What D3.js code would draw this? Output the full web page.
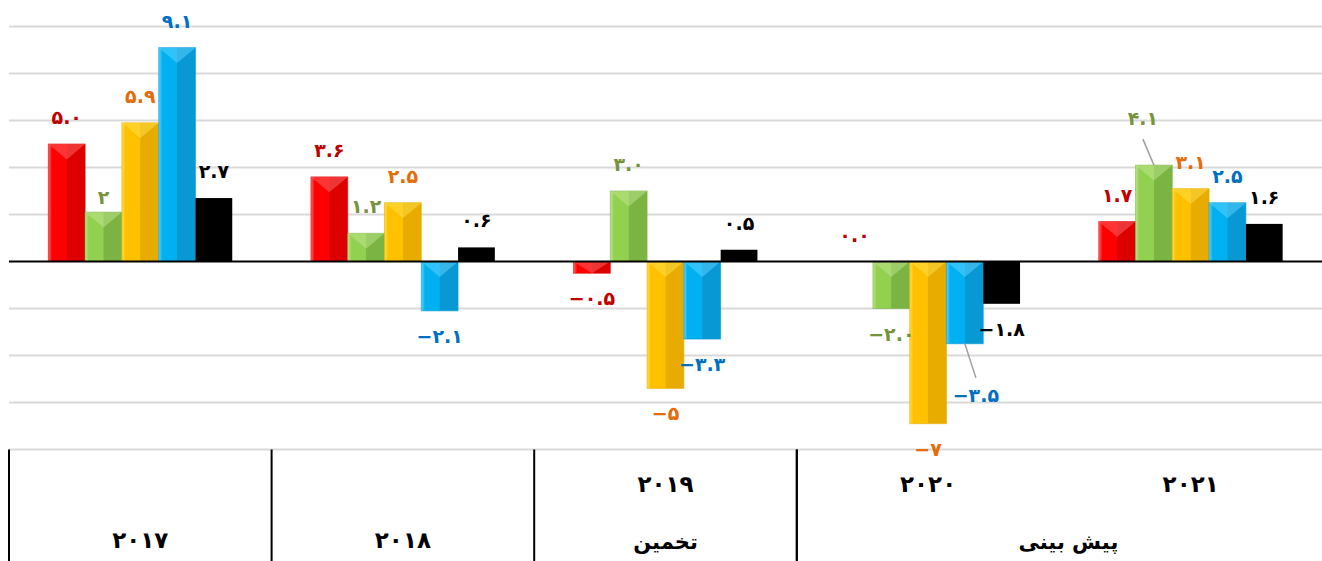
<!DOCTYPE html>
<html lang="fa">
<head>
    <meta charset="UTF-8">
    <title>growth chart</title>
    <script src="https://cdn.jsdelivr.net/npm/d3@7"></script>
    <style>
        body, html {
            margin: 0;
            padding: 0;
            background: #fff;
            overflow: hidden;
        }
        svg {
            display: block;
        }
    </style>
</head>
<body>
    <svg id="mainsvg"></svg>
    <script>
        // ---- data ----
        const years = ['2017', '2018', '2019', '2020', '2021'];
        const yearLabels = ['۲۰۱۷', '۲۰۱۸', '۲۰۱۹', '۲۰۲۰', '۲۰۲۱'];
        const seriesKeys = ['red', 'green', 'gold', 'blue', 'black'];

        const redValues = [5.0, 3.6, -0.5, 0.0, 1.7];
        const greenValues = [2.1, 1.2, 3.0, -2.0, 4.1];
        const goldValues = [5.9, 2.5, -5.4, -6.9, 3.1];
        const blueValues = [9.1, -2.1, -3.3, -3.5, 2.5];
        const blackValues = [2.7, 0.6, 0.5, -1.8, 1.6];

        const redLabels = ['۵.۰', '۳.۶', '−۰.۵', '۰.۰', '۱.۷'];
        const greenLabels = ['۲', '۱.۲', '۳.۰', '−۲.۰', '۴.۱'];
        const goldLabels = ['۵.۹', '۲.۵', '−۵', '−۷', '۳.۱'];
        const blueLabels = ['۹.۱', '−۲.۱', '−۳.۳', '−۳.۵', '۲.۵'];
        const blackLabels = ['۲.۷', '۰.۶', '۰.۵', '−۱.۸', '۱.۶'];

        // period notes under the year row
        const estimateYears = ['2019'];
        const forecastYears = ['2020', '2021'];
        const estimateText = 'تخمین';
        const forecastText = 'پیش بینی';

        const yTicks = [-8, -6, -4, -2, 0, 2, 4, 6, 8, 10];

        // ---- styles ----
        const barColors = {
            red:   { base: '#ff0000', light: '#ff6a6a', dark: '#dc0000', bevel: true },
            green: { base: '#92d050', light: '#bfe690', dark: '#7bb443', bevel: true },
            gold:  { base: '#ffc000', light: '#ffe04a', dark: '#e8ac00', bevel: true },
            blue:  { base: '#00b0f0', light: '#5fd4ff', dark: '#0899d4', bevel: true },
            black: { base: '#000000', light: '#000000', dark: '#000000', bevel: false }
        };
        const labelColors = {
            red: '#c00000', green: '#77933c', gold: '#e46c0a', blue: '#0070c0', black: '#000000'
        };

        // hand placed labels (Excel style) — offsets relative to default spot
        const labelTweaks = {
            'green-2017': { dy: 12 },
            'blue-2020': { dx: 11, dy: 26, leader: true },
            'green-2021': { dx: -11, dy: -20, leader: true }
        };

        const width = 1322, height = 561;
        const svg = d3.select('#mainsvg').attr('width', width).attr('height', height);

        const x0 = d3.scaleBand().domain(years).range([9, 1322]).paddingInner(0).paddingOuter(0);
        const x1 = d3.scaleBand().domain(seriesKeys).range([0, x0.bandwidth()])
            .paddingInner(0).paddingOuter(1.07);
        const yScale = d3.scaleLinear().domain([-8, 10]).range([449.5, 26.5]);

        const valuesBy = { red: redValues, green: greenValues, gold: goldValues, blue: blueValues, black: blackValues };
        const labelsBy = { red: redLabels, green: greenLabels, gold: goldLabels, blue: blueLabels, black: blackLabels };

        const data = [];
        years.forEach((yr, i) => {
            seriesKeys.forEach(k => {
                data.push({ year: yr, key: k, value: valuesBy[k][i], label: labelsBy[k][i] });
            });
        });

        // gradients for bevel look
        const defs = svg.append('defs');
        seriesKeys.forEach(k => {
            const c = barColors[k];
            const g = defs.append('linearGradient').attr('id', 'grad-' + k)
                .attr('x1', '0%').attr('x2', '100%').attr('y1', '0%').attr('y2', '0%');
            g.append('stop').attr('offset', '0%').attr('stop-color', c.light);
            g.append('stop').attr('offset', '10%').attr('stop-color', c.base);
            g.append('stop').attr('offset', '49%').attr('stop-color', c.base);
            g.append('stop').attr('offset', '51%').attr('stop-color', c.dark);
            g.append('stop').attr('offset', '90%').attr('stop-color', c.dark);
            g.append('stop').attr('offset', '100%').attr('stop-color', c.dark);
        });

        // grid lines
        svg.append('g').selectAll('line').data(yTicks.filter(t => t !== 0)).join('line')
            .attr('x1', 9).attr('x2', width)
            .attr('y1', d => yScale(d)).attr('y2', d => yScale(d))
            .attr('stroke', '#d9d9d9').attr('stroke-width', 2);

        // bars
        const barG = svg.append('g');
        const bars = barG.selectAll('g.bar').data(data.filter(d => d.value !== 0)).join('g').attr('class', 'bar');

        bars.append('rect')
            .attr('x', d => x0(d.year) + x1(d.key))
            .attr('y', d => yScale(Math.max(0, d.value)))
            .attr('width', x1.bandwidth())
            .attr('height', d => Math.abs(yScale(d.value) - yScale(0)))
            .attr('fill', d => barColors[d.key].bevel ? `url(#grad-${d.key})` : barColors[d.key].base)
            .attr('stroke', d => barColors[d.key].bevel ? barColors[d.key].dark : 'none')
            .attr('stroke-opacity', 0.6)
            .attr('stroke-width', 1);

        // top chevron of the bevel
        bars.filter(d => barColors[d.key].bevel).append('path')
            .attr('d', d => {
                const bx = x0(d.year) + x1(d.key);
                const w = x1.bandwidth();
                const top = yScale(Math.max(0, d.value));
                const h = Math.abs(yScale(d.value) - yScale(0));
                const depth = Math.min(h, w * 0.42);
                return `M${bx},${top} L${bx + w},${top} L${bx + w / 2},${top + depth} Z`;
            })
            .attr('fill', d => barColors[d.key].light)
            .attr('opacity', 0.5);

        // zero line
        svg.append('line')
            .attr('x1', 9).attr('x2', width)
            .attr('y1', yScale(0)).attr('y2', yScale(0))
            .attr('stroke', '#000').attr('stroke-width', 2);

        // data labels
        const labelPos = d => {
            const t = labelTweaks[d.key + '-' + d.year] || {};
            const cx = x0(d.year) + x1(d.key) + x1.bandwidth() / 2;
            const cy = d.value >= 0 ? yScale(d.value) - 27 : yScale(d.value) + 25;
            return { x: cx + (t.dx || 0), y: cy + (t.dy || 0), t: t, bx: cx, by: yScale(d.value) };
        };

        const leaders = data.filter(d => (labelTweaks[d.key + '-' + d.year] || {}).leader);
        svg.append('g').selectAll('line').data(leaders).join('line')
            .attr('x1', d => labelPos(d).bx)
            .attr('y1', d => labelPos(d).by)
            .attr('x2', d => labelPos(d).x)
            .attr('y2', d => labelPos(d).y + (d.value >= 0 ? 21 : -17))
            .attr('stroke', '#a0a0a0').attr('stroke-width', 1.5);

        svg.append('g').selectAll('text').data(data).join('text')
            .attr('x', d => labelPos(d).x)
            .attr('y', d => labelPos(d).y)
            .attr('text-anchor', 'middle')
            .attr('dominant-baseline', 'central')
            .attr('direction', 'ltr')
            .attr('font-family', 'DejaVu Sans')
            .attr('font-weight', 'bold')
            .attr('font-size', '19px')
            .attr('fill', d => labelColors[d.key])
            .text(d => d.label);

        // table under the chart
        const tableTop = yScale(-8);
        const borders = years.filter(yr => yr !== '2021').map(yr => x0(yr));
        borders.push(x0('2019') + x0.bandwidth());
        svg.append('g').selectAll('line').data(borders).join('line')
            .attr('x1', d => d).attr('x2', d => d)
            .attr('y1', tableTop).attr('y2', height)
            .attr('stroke', '#000').attr('stroke-width', 2);

        const hasNote = yr => estimateYears.includes(yr) || forecastYears.includes(yr);
        svg.append('g').selectAll('text').data(years).join('text')
            .attr('x', d => x0(d) + x0.bandwidth() / 2)
            .attr('y', d => hasNote(d) ? 484 : 540)
            .attr('text-anchor', 'middle')
            .attr('dominant-baseline', 'central')
            .attr('font-family', 'DejaVu Sans')
            .attr('font-weight', 'bold')
            .attr('font-size', '23px')
            .text((d, i) => yearLabels[i]);

        const notes = [
            { text: estimateText, x: d3.mean(estimateYears, yr => x0(yr) + x0.bandwidth() / 2) },
            { text: forecastText, x: d3.mean(forecastYears, yr => x0(yr) + x0.bandwidth() / 2) + 9 }
        ];
        svg.append('g').selectAll('text').data(notes).join('text')
            .attr('x', d => d.x)
            .attr('y', 542)
            .attr('text-anchor', 'middle')
            .attr('dominant-baseline', 'central')
            .attr('direction', 'rtl')
            .attr('font-family', 'DejaVu Sans')
            .attr('font-weight', 'bold')
            .attr('font-size', '21px')
            .text(d => d.text);
    </script>
</body>
</html>
